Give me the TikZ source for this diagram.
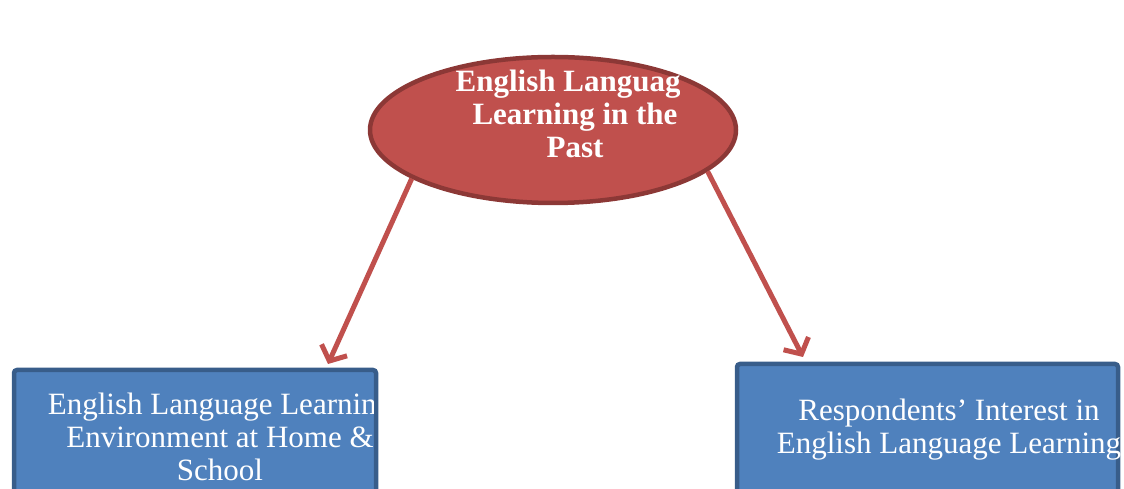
\documentclass[tikz,border=0pt]{standalone}
\usepackage{fontspec}
\setmainfont{Liberation Serif}
\usepackage{xcolor}
\usepackage{tikz}
\usetikzlibrary{arrows.meta,shapes.geometric}
\definecolor{hubred}{HTML}{C0504D}
\definecolor{hubredline}{HTML}{8C3836}
\definecolor{boxblue}{HTML}{4F81BD}
\definecolor{boxblueline}{HTML}{385D8A}
\tikzset{
    hub/.style={
        ellipse, draw=hubredline, fill=hubred, line width=4.5pt,
        minimum width=366pt, minimum height=146pt, inner sep=0pt
    },
    topicbox/.style={
        rectangle, draw=boxblueline, fill=boxblue, line width=4.5pt,
        rounded corners=3pt, inner sep=0pt, minimum height=200pt
    },
    boxtext/.style={
        text=white, align=center, inner sep=0pt,
        font=\fontsize{31}{33}\selectfont
    },
    link/.style={
        hubred, line width=5pt,
        -{Straight Barb[length=12pt,width=28pt]}
    }
}

\begin{document}
\begin{tikzpicture}[x=1pt,y=1pt]
\useasboundingbox (0,0) rectangle (1124,489);
\clip (0,0) rectangle (1124,489);

% Ellisse centrale
\node[hub] (pasthub) at (553,359) {};
\begin{scope}
\clip (360,280) rectangle (679,440);
\node[boxtext, font=\fontsize{31}{33}\selectfont\bfseries] (pasttext) at (575,375)
    {English Language\\Learning in the\\Past};
\end{scope}

% Riquadri
\node[topicbox, minimum width=362pt] (envbox) at (195,19) {};
\begin{scope}
\clip (14,-100) rectangle (373,119);
\node[boxtext] (envtext) at (220,52)
    {English Language Learning\\Environment at Home \&\\School};
\end{scope}

\node[topicbox, minimum width=381pt] (interestbox) at (927.5,25) {};
\node[boxtext] (interesttext) at (949,59)
    {Respondents' Interest in\\English Language Learning};

% Frecce
\coordinate (envtip) at (328,125);
\coordinate (interesttip) at (803,132);
\draw[link] (pasthub.199) -- (envtip);
\draw[link] (pasthub.345) -- (interesttip);

\end{tikzpicture}
\end{document}
